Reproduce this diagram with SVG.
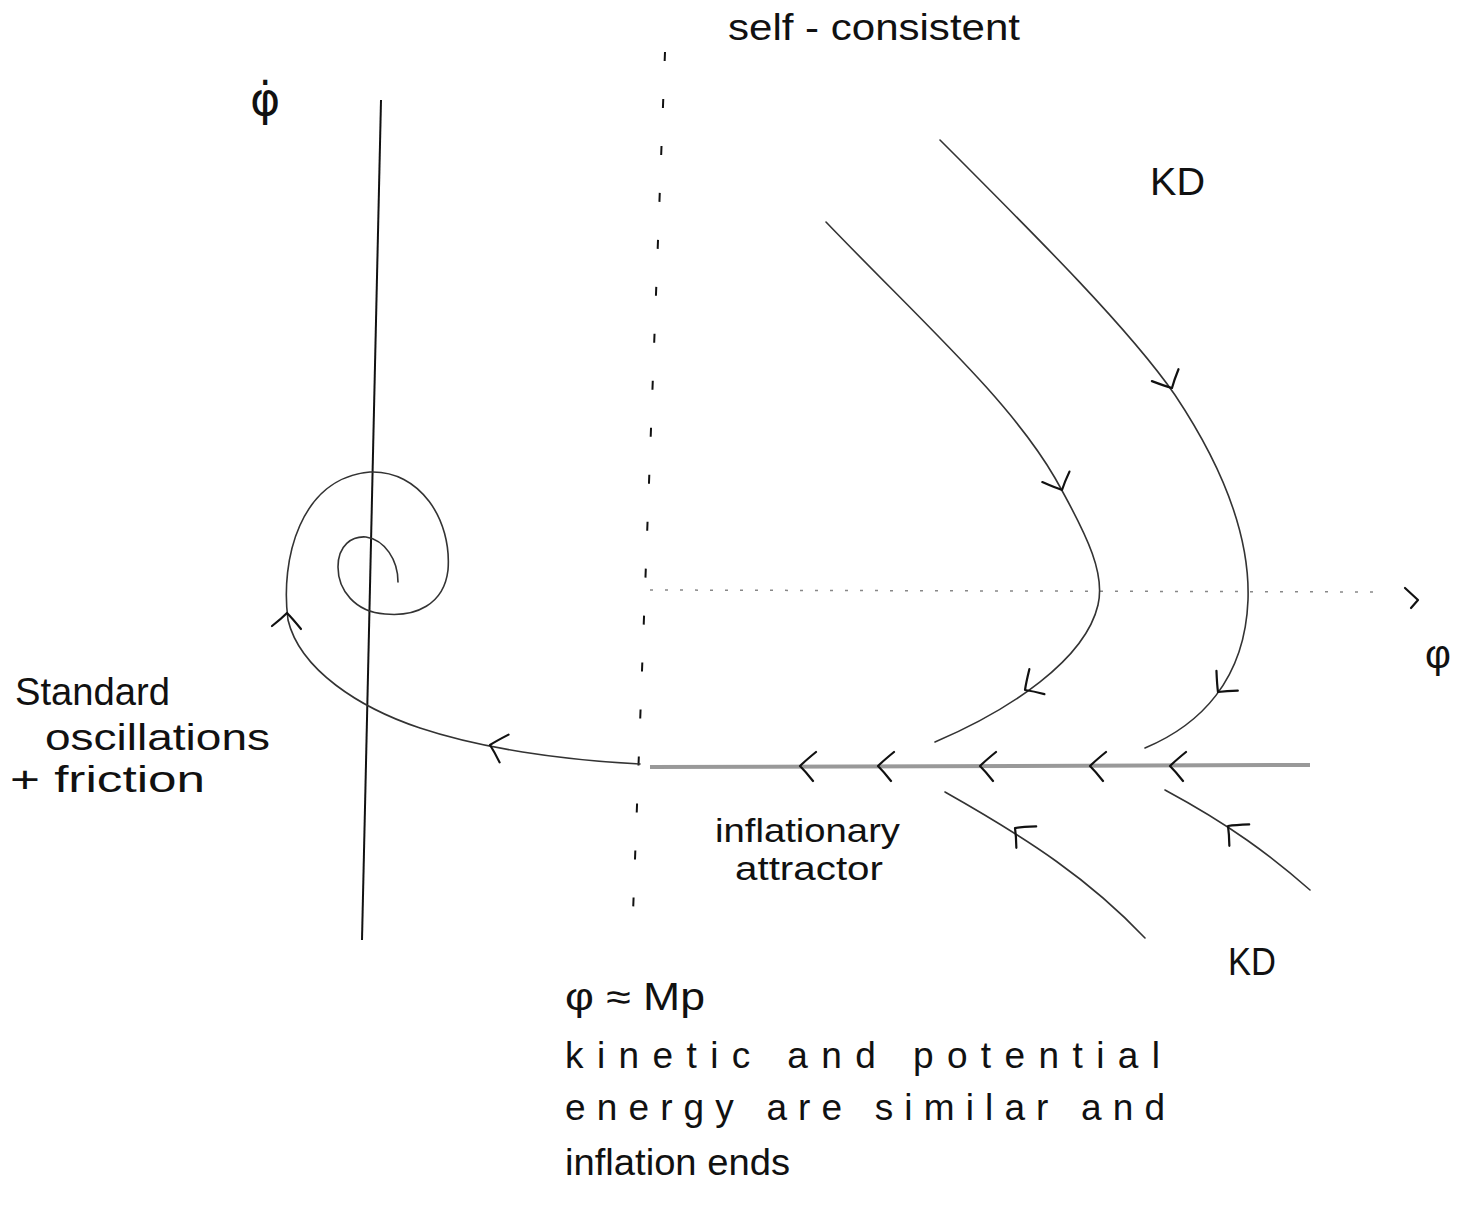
<svg xmlns="http://www.w3.org/2000/svg" xmlns:xlink="http://www.w3.org/1999/xlink" width="1465" height="1216" viewBox="0 0 1465 1216">
<style>
.t{font-family:"Liberation Sans","DejaVu Sans",sans-serif;fill:#111;}
.c{fill:none;stroke:#333;stroke-width:1.6;stroke-linecap:round;}
.ch{fill:none;stroke:#111;stroke-width:2.2;stroke-linecap:round;stroke-linejoin:round;}
</style>
<defs>
<path id="chev" d="M16,-14 Q5,-5 0,0 Q6,6 13,15"/>
</defs>
<rect width="1465" height="1216" fill="#fff"/>
<g id="connectors">
<path id="phidot-axis" d="M381 100 L362 940" fill="none" stroke="#111" stroke-width="2"/>
<path id="mp-line" d="M665 52 L632 940" fill="none" stroke="#111" stroke-width="2" stroke-dasharray="9 38"/>
<path id="phi-axis" d="M650 590 L1385 592" fill="none" stroke="#888" stroke-width="1.5" stroke-dasharray="3 12"/>
<polyline points="1405,588 1418,600 1411,608" class="ch" stroke-width="1.6"/>
<path id="attractor" d="M650 767 L1310 765" fill="none" stroke="#999" stroke-width="4"/>
<path id="spiral" class="c" d="M640 764 C560 760,480 748,420 728 C360 708,300 670,288 620 C280 560,300 478,370 472 C420 470,452 520,448 570 C444 605,415 617,385 614 C355 612,338 590,338 567 C338 545,352 536,366 537 C385 540,398 560,398 582"/>
<path id="curve-a" class="c" d="M826 222 C920 320,1010 400,1055 478 C1090 540,1105 575,1098 605 C1085 660,1010 710,935 742"/>
<path id="curve-b" class="c" d="M940 140 C1040 240,1130 330,1175 395 C1225 470,1250 540,1248 600 C1245 680,1200 725,1145 748"/>
<path id="curve-c" class="c" d="M945 792 C1030 840,1090 880,1145 938"/>
<path id="curve-d" class="c" d="M1165 790 C1230 825,1270 855,1310 890"/>
<g class="ch">
<use xlink:href="#chev" href="#chev" transform="translate(800,766)"/>
<use xlink:href="#chev" href="#chev" transform="translate(878,766)"/>
<use xlink:href="#chev" href="#chev" transform="translate(980,766)"/>
<use xlink:href="#chev" href="#chev" transform="translate(1090,766)"/>
<use xlink:href="#chev" href="#chev" transform="translate(1170,766)"/>
<use xlink:href="#chev" href="#chev" transform="translate(490,745) rotate(12)"/>
<use xlink:href="#chev" href="#chev" transform="translate(287,613) rotate(90)"/>
<use xlink:href="#chev" href="#chev" transform="translate(1062,490) rotate(-117)"/>
<use xlink:href="#chev" href="#chev" transform="translate(1172,388) rotate(-120)"/>
<use xlink:href="#chev" href="#chev" transform="translate(1025,690) rotate(-37)"/>
<use xlink:href="#chev" href="#chev" transform="translate(1218,692) rotate(-53)"/>
<use xlink:href="#chev" href="#chev" transform="translate(1015,828) rotate(37)"/>
<use xlink:href="#chev" href="#chev" transform="translate(1228,826) rotate(37)"/>
</g>
</g>
<g id="label-phidot"><text x="250" y="115" font-size="46" font-family="'DejaVu Sans',sans-serif" fill="#111">φ̇</text></g>
<g id="label-self-consistent"><text class="t" x="728" y="40" font-size="36" textLength="292" lengthAdjust="spacingAndGlyphs">self - consistent</text></g>
<g id="label-kd-top"><text class="t" x="1150" y="195" font-size="38" textLength="55" lengthAdjust="spacingAndGlyphs">KD</text></g>
<g id="label-phi"><text class="t" x="1425" y="668" font-size="40">φ</text></g>
<g id="label-kd-bottom"><text class="t" x="1228" y="975" font-size="38" textLength="48" lengthAdjust="spacingAndGlyphs">KD</text></g>
<g id="label-standard">
<text class="t" x="15" y="705" font-size="38" textLength="155" lengthAdjust="spacingAndGlyphs">Standard</text>
<text class="t" x="45" y="750" font-size="36" textLength="225" lengthAdjust="spacingAndGlyphs">oscillations</text>
<text class="t" x="10" y="792" font-size="36" textLength="195" lengthAdjust="spacingAndGlyphs">+ friction</text>
</g>
<g id="label-attractor">
<text class="t" x="715" y="842" font-size="34" textLength="185" lengthAdjust="spacingAndGlyphs">inflationary</text>
<text class="t" x="735" y="880" font-size="34" textLength="148" lengthAdjust="spacingAndGlyphs">attractor</text>
</g>
<g id="label-mp">
<text class="t" x="565" y="1010" font-size="38" textLength="140" lengthAdjust="spacingAndGlyphs">φ ≈ Mp</text>
<text class="t" x="565" y="1068" font-size="37" textLength="595" lengthAdjust="spacing">kinetic and potential</text>
<text class="t" x="565" y="1120" font-size="37" textLength="600" lengthAdjust="spacing">energy are similar and</text>
<text class="t" x="565" y="1175" font-size="37" textLength="225" lengthAdjust="spacingAndGlyphs">inflation ends</text>
</g>
</svg>
